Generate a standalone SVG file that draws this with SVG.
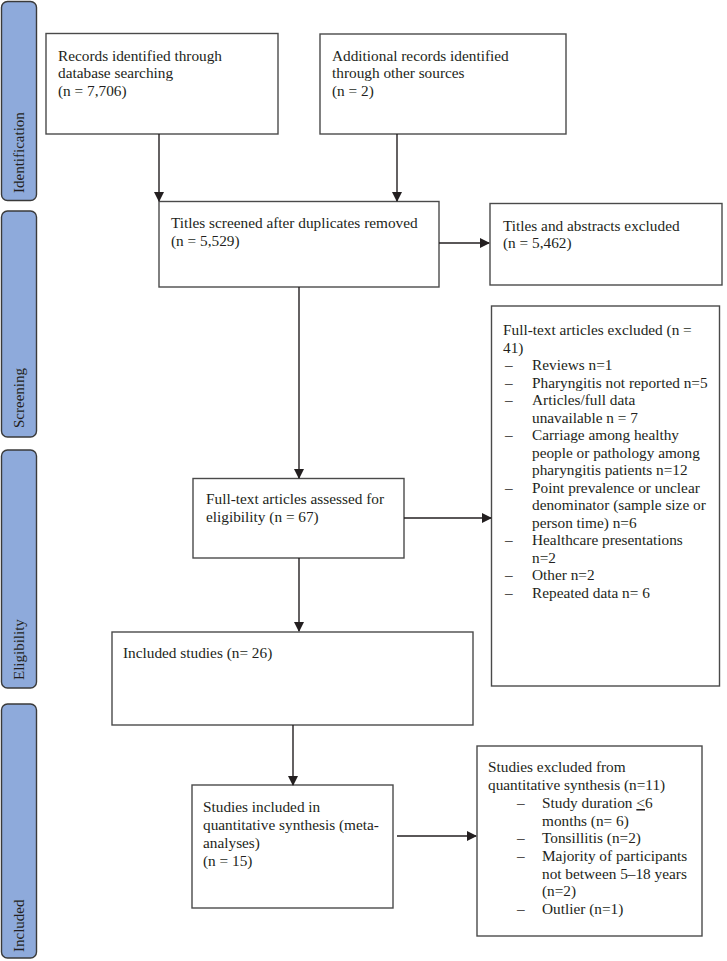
<svg xmlns="http://www.w3.org/2000/svg" width="727" height="961" viewBox="0 0 727 961">
<defs>
<marker id="ah" markerWidth="10" markerHeight="10" refX="9" refY="5" orient="auto" markerUnits="userSpaceOnUse">
<path d="M0,0 L10,5 L0,10 Z" fill="#231f20"/>
</marker>
<style>
.box{fill:#ffffff;stroke:#4a4a4a;stroke-width:1.4}
.bar{fill:#8eaadb;stroke:#3a3a3a;stroke-width:1.4}
.t{font-family:"Liberation Serif","Times New Roman",serif;font-size:15.3px;fill:#231f20}
.lbl{font-family:"Liberation Serif","Times New Roman",serif;font-size:15px;fill:#231f20}
.con{stroke:#231f20;stroke-width:1.4;fill:none;marker-end:url(#ah)}
</style>
</defs>
<rect width="727" height="961" fill="#ffffff"/>

<g id="phase-identification">
<rect class="bar" x="1.5" y="1.5" width="35" height="199" rx="6"/>
<text class="lbl" transform="translate(24,193) rotate(-90)">Identification</text>
</g>
<g id="phase-screening">
<rect class="bar" x="1.5" y="211" width="35" height="226" rx="6"/>
<text class="lbl" transform="translate(24,428) rotate(-90)">Screening</text>
</g>
<g id="phase-eligibility">
<rect class="bar" x="1.5" y="450" width="35" height="238" rx="6"/>
<text class="lbl" transform="translate(24,680) rotate(-90)">Eligibility</text>
</g>
<g id="phase-included">
<rect class="bar" x="1.5" y="704" width="35" height="254" rx="6"/>
<text class="lbl" transform="translate(24,952) rotate(-90)">Included</text>
</g>

<g id="records-db">
<rect class="box" x="46" y="33.5" width="232" height="100.5"/>
<text class="t" x="58" y="60.5">Records identified through</text>
<text class="t" x="58" y="78.2">database searching</text>
<text class="t" x="58" y="96">(n = 7,706)</text>
</g>
<g id="records-other">
<rect class="box" x="320" y="34" width="246" height="100"/>
<text class="t" x="332" y="60.5">Additional records identified</text>
<text class="t" x="332" y="78.2">through other sources</text>
<text class="t" x="332" y="96">(n = 2)</text>
</g>
<g id="titles-screened">
<rect class="box" x="159" y="201.5" width="280" height="85.5"/>
<text class="t" x="171" y="228">Titles screened after duplicates removed</text>
<text class="t" x="171" y="246">(n = 5,529)</text>
</g>
<g id="titles-excluded">
<rect class="box" x="490" y="203.5" width="232" height="81.5"/>
<text class="t" x="503" y="230.7">Titles and abstracts excluded</text>
<text class="t" x="503" y="248.3">(n = 5,462)</text>
</g>
<g id="fulltext-assessed">
<rect class="box" x="193" y="478.5" width="211" height="79.5"/>
<text class="t" x="206" y="504">Full-text articles assessed for</text>
<text class="t" x="206" y="522">eligibility (n = 67)</text>
</g>
<g id="fulltext-excluded">
<rect class="box" x="491.5" y="306" width="228" height="380"/>
<text class="t" x="503" y="335">Full-text articles excluded (n =</text>
<text class="t" x="503" y="352.5">41)</text>
<text class="t" x="505" y="370">–</text><text class="t" x="532" y="370">Reviews n=1</text>
<text class="t" x="505" y="387.5">–</text><text class="t" x="532" y="387.5">Pharyngitis not reported n=5</text>
<text class="t" x="505" y="405">–</text><text class="t" x="532" y="405">Articles/full data</text>
<text class="t" x="532" y="422.5">unavailable n = 7</text>
<text class="t" x="505" y="440">–</text><text class="t" x="532" y="440">Carriage among healthy</text>
<text class="t" x="532" y="457.5">people or pathology among</text>
<text class="t" x="532" y="475">pharyngitis patients n=12</text>
<text class="t" x="505" y="492.5">–</text><text class="t" x="532" y="492.5">Point prevalence or unclear</text>
<text class="t" x="532" y="510">denominator (sample size or</text>
<text class="t" x="532" y="527.5">person time) n=6</text>
<text class="t" x="505" y="545">–</text><text class="t" x="532" y="545">Healthcare presentations</text>
<text class="t" x="532" y="562.5">n=2</text>
<text class="t" x="505" y="580">–</text><text class="t" x="532" y="580">Other n=2</text>
<text class="t" x="505" y="597.5">–</text><text class="t" x="532" y="597.5">Repeated data n= 6</text>
</g>
<g id="included-studies">
<rect class="box" x="112" y="632" width="361" height="93"/>
<text class="t" x="123" y="658">Included studies (n= 26)</text>
</g>
<g id="quantitative-included">
<rect class="box" x="192" y="785" width="201" height="123"/>
<text class="t" x="203" y="812">Studies included in</text>
<text class="t" x="203" y="830">quantitative synthesis (meta-</text>
<text class="t" x="203" y="848">analyses)</text>
<text class="t" x="203" y="866">(n = 15)</text>
</g>
<g id="quantitative-excluded">
<rect class="box" x="477" y="746" width="225" height="190"/>
<text class="t" x="488" y="772">Studies excluded from</text>
<text class="t" x="488" y="790">quantitative synthesis (n=11)</text>
<text class="t" x="517" y="808">–</text><text class="t" x="542" y="808">Study duration <tspan text-decoration="underline">&lt;</tspan>6</text>
<text class="t" x="542" y="825.5">months (n= 6)</text>
<text class="t" x="517" y="843">–</text><text class="t" x="542" y="843">Tonsillitis (n=2)</text>
<text class="t" x="517" y="861">–</text><text class="t" x="542" y="861">Majority of participants</text>
<text class="t" x="542" y="878.5">not between 5–18 years</text>
<text class="t" x="542" y="896">(n=2)</text>
<text class="t" x="517" y="913.5">–</text><text class="t" x="542" y="913.5">Outlier (n=1)</text>
</g>

<g id="connectors">
<line class="con" x1="159" y1="134" x2="159" y2="201"/>
<line class="con" x1="397" y1="134" x2="397" y2="201"/>
<line class="con" x1="439" y1="243" x2="489" y2="243"/>
<line class="con" x1="299" y1="287" x2="299" y2="478"/>
<line class="con" x1="404" y1="518" x2="491" y2="518"/>
<line class="con" x1="299" y1="558" x2="299" y2="631"/>
<line class="con" x1="293" y1="725" x2="293" y2="785"/>
<line class="con" x1="397" y1="836" x2="476" y2="836"/>
</g>
</svg>
